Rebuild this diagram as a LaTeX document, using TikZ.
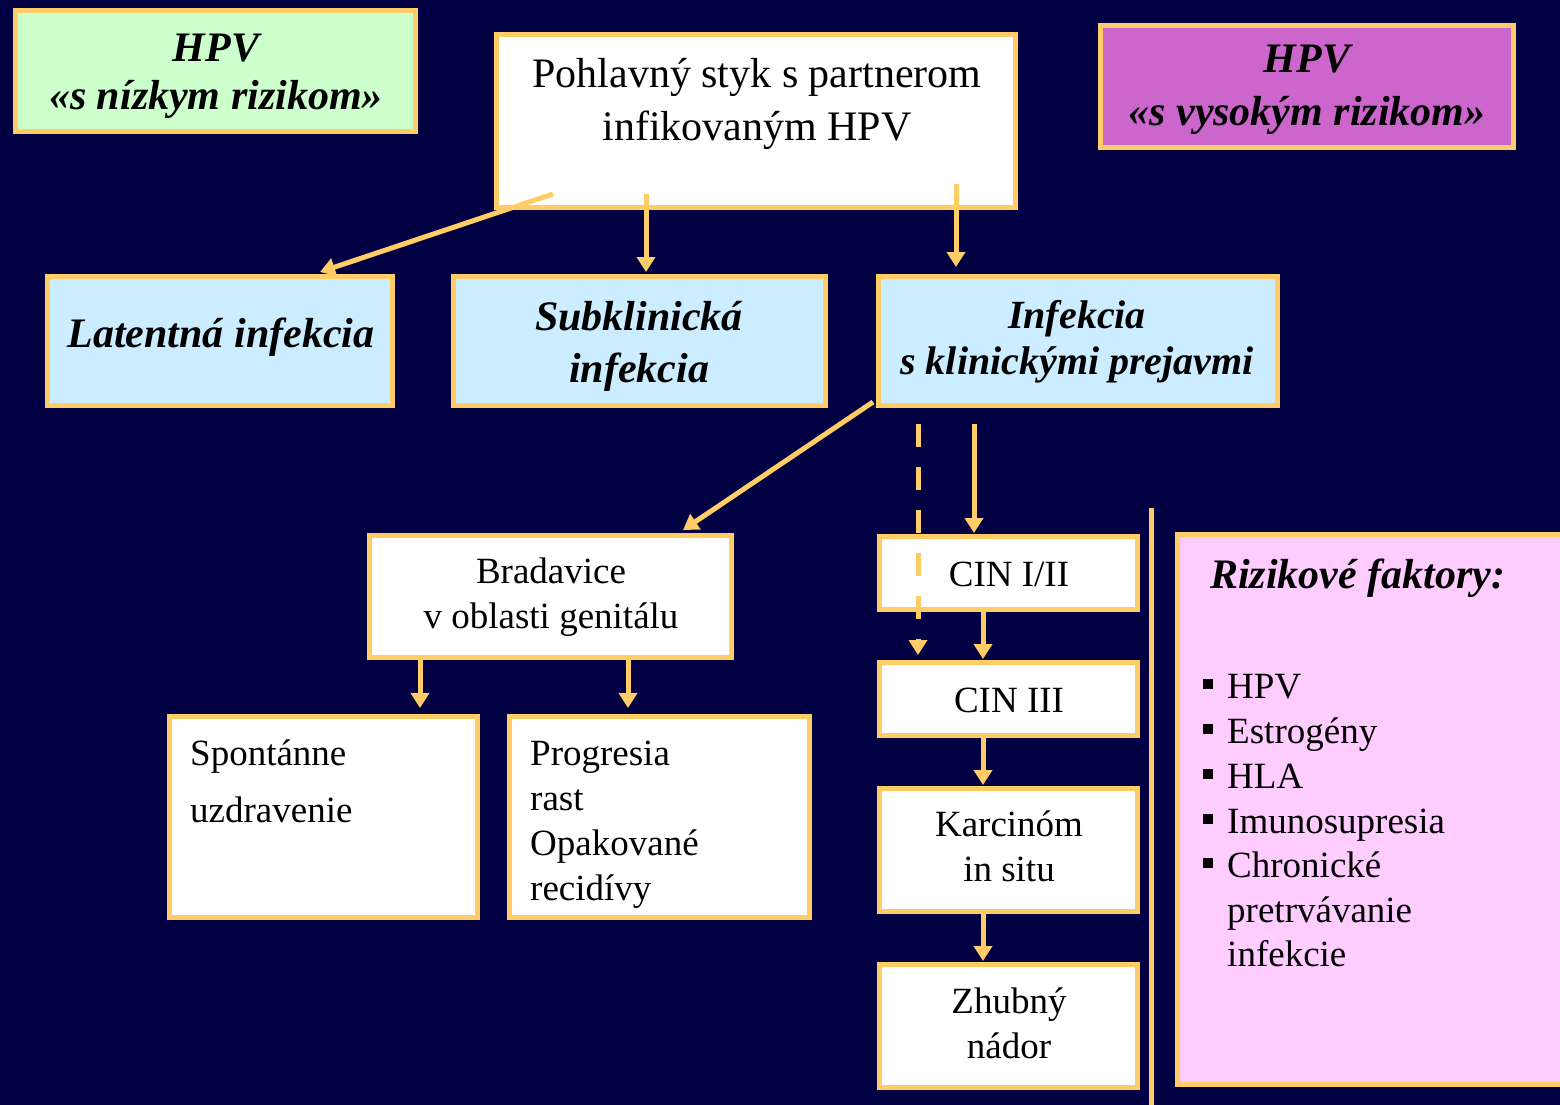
\documentclass[tikz,border=0pt]{standalone}
\usepackage{fontspec}
\setmainfont{Liberation Serif}
\usetikzlibrary{arrows.meta,calc}
\definecolor{bg}{RGB}{0,0,66}
\definecolor{bord}{RGB}{255,204,102}
\definecolor{lgreen}{RGB}{204,255,204}
\definecolor{mag}{RGB}{204,102,204}
\definecolor{lblue}{RGB}{204,236,255}
\definecolor{lpink}{RGB}{255,204,255}
\tikzset{
  box/.style={draw=bord, line width=5pt, inner sep=0pt},
  arr/.style={draw=bord, line width=5pt, -{Triangle[length=15pt,width=18pt]}},
  lab/.style={anchor=base, inner sep=0pt, text=black},
  labl/.style={anchor=base west, inner sep=0pt, text=black},
  big/.style={font=\fontsize{42}{50}\selectfont},
  bigbi/.style={font=\fontsize{42}{50}\selectfont\bfseries\itshape},
  midbi/.style={font=\fontsize{40}{48}\selectfont\bfseries\itshape},
  mid/.style={font=\fontsize{37}{44}\selectfont},
}
\begin{document}
\begin{tikzpicture}[x=1pt,y=-1pt]
\useasboundingbox (0,0) rectangle (1560,1105);
\fill[bg] (0,0) rectangle (1560,1105);

% boxes
\node[box, fill=lgreen, minimum width=400pt, minimum height=121pt] (low) at (215.5,71) {};
\node[box, fill=mag, minimum width=413pt, minimum height=122pt] (high) at (1307,86.5) {};
\node[box, fill=white, minimum width=519pt, minimum height=173pt] (top) at (756,121) {};
\node[box, fill=lblue, minimum width=345pt, minimum height=129pt] (lat) at (220,341) {};
\node[box, fill=lblue, minimum width=372pt, minimum height=129pt] (sub) at (639.5,341) {};
\node[box, fill=lblue, minimum width=399pt, minimum height=129pt] (inf) at (1078,341) {};
\node[box, fill=white, minimum width=362pt, minimum height=122pt] (brad) at (550.5,596.5) {};
\node[box, fill=white, minimum width=308pt, minimum height=201pt] (spon) at (323.5,817) {};
\node[box, fill=white, minimum width=300pt, minimum height=201pt] (prog) at (659.5,817) {};
\node[box, fill=white, minimum width=258pt, minimum height=73pt] (cin1) at (1008.5,573) {};
\node[box, fill=white, minimum width=258pt, minimum height=73pt] (cin3) at (1008.5,699) {};
\node[box, fill=white, minimum width=258pt, minimum height=123pt] (karc) at (1008.5,850) {};
\node[box, fill=white, minimum width=258pt, minimum height=123pt] (zhub) at (1008.5,1026) {};
\node[box, fill=lpink, minimum width=412pt, minimum height=550pt] (riz) at (1383.75,809.5) {};

% separator line
\coordinate (sepA) at (1151,508);
\coordinate (sepB) at (1151,1112);
\draw[bord, line width=5pt] (sepA) -- (sepB);

% texts
\node[lab, bigbi] (lowA) at (216,62) {HPV};
\node[lab, bigbi] (lowB) at (216,110) {«s nízkym rizikom»};
\node[lab, bigbi] (highA) at (1307,73) {HPV};
\node[lab, bigbi] (highB) at (1307,125) {«s vysokým rizikom»};
\node[lab, big] (topA) at (757,88) {Pohlavný styk s partnerom};
\node[lab, big] (topB) at (757,140) {infikovaným HPV};
\node[lab, bigbi] (latA) at (221,347) {Latentná infekcia};
\node[lab, bigbi] (subA) at (639,330) {Subklinická};
\node[lab, bigbi] (subB) at (639,382) {infekcia};
\node[lab, midbi] (infA) at (1077,328) {Infekcia};
\node[lab, midbi] (infB) at (1077,374) {s klinickými prejavmi};
\node[lab, mid] (bradA) at (551,583) {Bradavice};
\node[lab, mid] (bradB) at (551,628) {v oblasti genitálu};
\node[labl, mid] (sponA) at (190,765) {Spontánne};
\node[labl, mid] (sponB) at (190,822) {uzdravenie};
\node[labl, mid] (progA) at (530,765) {Progresia};
\node[labl, mid] (progB) at (530,810) {rast};
\node[labl, mid] (progC) at (530,855) {Opakované};
\node[labl, mid] (progD) at (530,900) {recidívy};
\node[lab, mid] (cin1A) at (1009,586) {CIN I/II};
\node[lab, mid] (cin3A) at (1009,712) {CIN III};
\node[lab, mid] (karcA) at (1009,836) {Karcinóm};
\node[lab, mid] (karcB) at (1009,881) {in situ};
\node[lab, mid] (zhubA) at (1009,1013) {Zhubný};
\node[lab, mid] (zhubB) at (1009,1058) {nádor};
\node[labl, bigbi] (rizA) at (1210,588) {Rizikové faktory:};
\foreach \yy/\nm/\tx in {698/r1/HPV, 743/r2/Estrogény, 788/r3/HLA, 833/r4/Imunosupresia, 877/r5/Chronické}{
  \node[labl, mid] (\nm) at (1227,\yy) {\tx};
  \fill[black] (1203,\yy-19) rectangle (1213,\yy-9);
}
\node[labl, mid] (r6) at (1227,922) {pretrvávanie};
\node[labl, mid] (r7) at (1227,966) {infekcie};

% arrows
\draw[arr] ($(top.south west)+(59,-16)$) -- ($(lat.north west)+(275,-2)$);
\draw[arr] ($(top.south west)+(152,-16)$) -- ($(sub.north west)+(195,-2)$);
\draw[arr] ($(top.south west)+(462,-26)$) -- ($(inf.north west)+(80,-7)$);
\draw[arr] ($(inf.south west)+(-3,-6)$) -- ($(brad.north west)+(316,-3)$);
\draw[arr, dash pattern=on 23pt off 20pt] ($(inf.south west)+(42,16)$) -- ($(cin3.north west)+(41,-5)$);
\draw[arr] ($(inf.south west)+(98,16)$) -- ($(cin1.north west)+(97,-1)$);
\draw[arr] ($(cin1.south west)+(106,0)$) -- ($(cin3.north west)+(106,-1)$);
\draw[arr] ($(cin3.south west)+(106,0)$) -- ($(karc.north west)+(106,-1)$);
\draw[arr] ($(karc.south west)+(106,0)$) -- ($(zhub.north west)+(106,-1)$);
\draw[arr] ($(brad.south west)+(53,0)$) -- ($(spon.north west)+(253,-6)$);
\draw[arr] ($(brad.south west)+(261,0)$) -- ($(prog.north west)+(121,-6)$);
\end{tikzpicture}
\end{document}
